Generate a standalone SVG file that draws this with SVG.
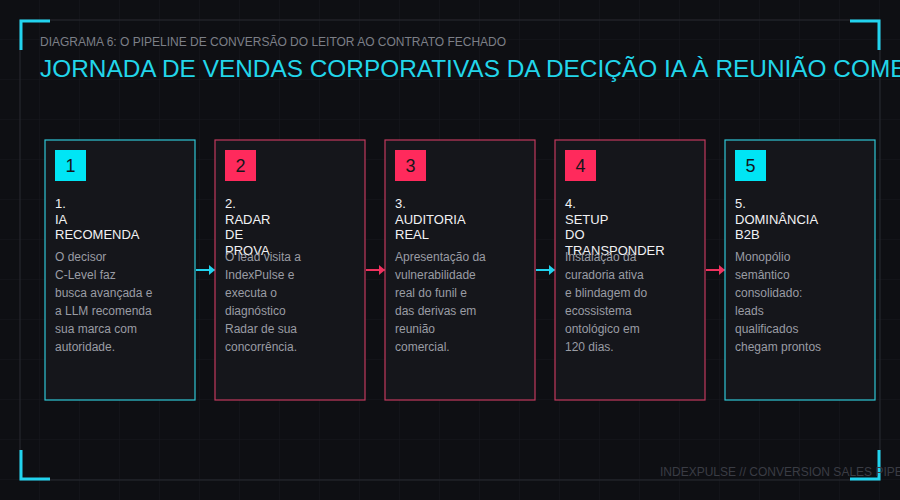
<svg xmlns="http://www.w3.org/2000/svg" width="900" height="500" viewBox="0 0 900 500">
<defs>
<pattern id="grid" width="40" height="40" patternUnits="userSpaceOnUse">
<path d="M40 0V40M0 40H40" fill="none" stroke="#17181e" stroke-width="1"/>
</pattern>
<marker id="ac" viewBox="0 0 6 10" refX="6" refY="5" markerWidth="6" markerHeight="10" markerUnits="userSpaceOnUse" orient="auto"><path d="M0 0L6 5L0 10Z" fill="#22d3ee"/></marker>
<marker id="ap" viewBox="0 0 6 10" refX="6" refY="5" markerWidth="6" markerHeight="10" markerUnits="userSpaceOnUse" orient="auto"><path d="M0 0L6 5L0 10Z" fill="#f0325f"/></marker>
</defs>
<style>
.card{fill:#15161b;stroke-width:1.2}
.cy{stroke:#2fc6d6}
.pk{stroke:#c23a5e}
.bc{fill:#00e5f5}
.bp{fill:#ff2a5c}
.num{font-family:"Liberation Sans",Arial,sans-serif;font-size:18px;fill:#15161b;text-anchor:middle}
.ttl{font-family:"Liberation Sans",Arial,sans-serif;font-size:13px;fill:#f2f2f4}
.dsc{font-family:"Liberation Sans",Arial,sans-serif;font-size:12px;fill:#9a9ca4}
.br{fill:none;stroke:#22d3ee;stroke-width:3}
.con{fill:none;stroke-width:2}
</style>
<rect width="900" height="500" fill="#0e0f13"/>
<rect width="900" height="500" fill="url(#grid)"/>
<rect x="20" y="20" width="860" height="460" fill="none" stroke="#26272d" stroke-width="1.2"/>
<path class="br" d="M21 50V21H50"/>
<path class="br" d="M850 21H879V50"/>
<path class="br" d="M21 450V479H50"/>
<path class="br" d="M850 479H879V450"/>
<text x="40" y="46" font-family="Liberation Sans,Arial,sans-serif" font-size="12" fill="#7c7f87">DIAGRAMA 6: O PIPELINE DE CONVERSÃO DO LEITOR AO CONTRATO FECHADO</text>
<text x="40" y="77" font-family="Liberation Sans,Arial,sans-serif" font-size="24.4" fill="#22d6ea">JORNADA DE VENDAS CORPORATIVAS DA DECIÇÃO IA À REUNIÃO COMERCIAL</text>
<text x="660" y="476" font-family="Liberation Sans,Arial,sans-serif" font-size="12" fill="#3a3c44">INDEXPULSE // CONVERSION SALES PIPELINE</text>
<g id="connectors">
<path class="con" stroke="#22d3ee" marker-end="url(#ac)" d="M196 270H215"/>
<path class="con" stroke="#f0325f" marker-end="url(#ap)" d="M366 270H385"/>
<path class="con" stroke="#22d3ee" marker-end="url(#ac)" d="M536 270H555"/>
<path class="con" stroke="#f0325f" marker-end="url(#ap)" d="M706 270H725"/>
</g>
<g id="node1">
<rect class="card cy" x="45" y="140" width="150" height="260"/>
<rect class="bc" x="55" y="150" width="31" height="31"/>
<text class="num" x="70.5" y="172">1</text>
<text class="ttl"><tspan x="55" y="208">1.</tspan><tspan x="55" y="223.5">IA</tspan><tspan x="55" y="239">RECOMENDA</tspan></text>
<text class="dsc"><tspan x="55" y="261">O decisor</tspan><tspan x="55" y="279">C-Level faz</tspan><tspan x="55" y="297">busca avançada e</tspan><tspan x="55" y="315">a LLM recomenda</tspan><tspan x="55" y="333">sua marca com</tspan><tspan x="55" y="351">autoridade.</tspan></text>
</g>
<g id="node2">
<rect class="card pk" x="215" y="140" width="150" height="260"/>
<rect class="bp" x="225" y="150" width="31" height="31"/>
<text class="num" x="240.5" y="172">2</text>
<text class="ttl"><tspan x="225" y="208">2.</tspan><tspan x="225" y="223.5">RADAR</tspan><tspan x="225" y="239">DE</tspan><tspan x="225" y="254.5">PROVA</tspan></text>
<text class="dsc"><tspan x="225" y="261">O lead visita a</tspan><tspan x="225" y="279">IndexPulse e</tspan><tspan x="225" y="297">executa o</tspan><tspan x="225" y="315">diagnóstico</tspan><tspan x="225" y="333">Radar de sua</tspan><tspan x="225" y="351">concorrência.</tspan></text>
</g>
<g id="node3">
<rect class="card pk" x="385" y="140" width="150" height="260"/>
<rect class="bp" x="395" y="150" width="31" height="31"/>
<text class="num" x="410.5" y="172">3</text>
<text class="ttl"><tspan x="395" y="208">3.</tspan><tspan x="395" y="223.5">AUDITORIA</tspan><tspan x="395" y="239">REAL</tspan></text>
<text class="dsc"><tspan x="395" y="261">Apresentação da</tspan><tspan x="395" y="279">vulnerabilidade</tspan><tspan x="395" y="297">real do funil e</tspan><tspan x="395" y="315">das derivas em</tspan><tspan x="395" y="333">reunião</tspan><tspan x="395" y="351">comercial.</tspan></text>
</g>
<g id="node4">
<rect class="card pk" x="555" y="140" width="150" height="260"/>
<rect class="bp" x="565" y="150" width="31" height="31"/>
<text class="num" x="580.5" y="172">4</text>
<text class="ttl"><tspan x="565" y="208">4.</tspan><tspan x="565" y="223.5">SETUP</tspan><tspan x="565" y="239">DO</tspan><tspan x="565" y="254.5">TRANSPONDER</tspan></text>
<text class="dsc"><tspan x="565" y="261">Instalação da</tspan><tspan x="565" y="279">curadoria ativa</tspan><tspan x="565" y="297">e blindagem do</tspan><tspan x="565" y="315">ecossistema</tspan><tspan x="565" y="333">ontológico em</tspan><tspan x="565" y="351">120 dias.</tspan></text>
</g>
<g id="node5">
<rect class="card cy" x="725" y="140" width="150" height="260"/>
<rect class="bc" x="735" y="150" width="31" height="31"/>
<text class="num" x="750.5" y="172">5</text>
<text class="ttl"><tspan x="735" y="208">5.</tspan><tspan x="735" y="223.5">DOMINÂNCIA</tspan><tspan x="735" y="239">B2B</tspan></text>
<text class="dsc"><tspan x="735" y="261">Monopólio</tspan><tspan x="735" y="279">semântico</tspan><tspan x="735" y="297">consolidado:</tspan><tspan x="735" y="315">leads</tspan><tspan x="735" y="333">qualificados</tspan><tspan x="735" y="351">chegam prontos</tspan></text>
</g>
</svg>
